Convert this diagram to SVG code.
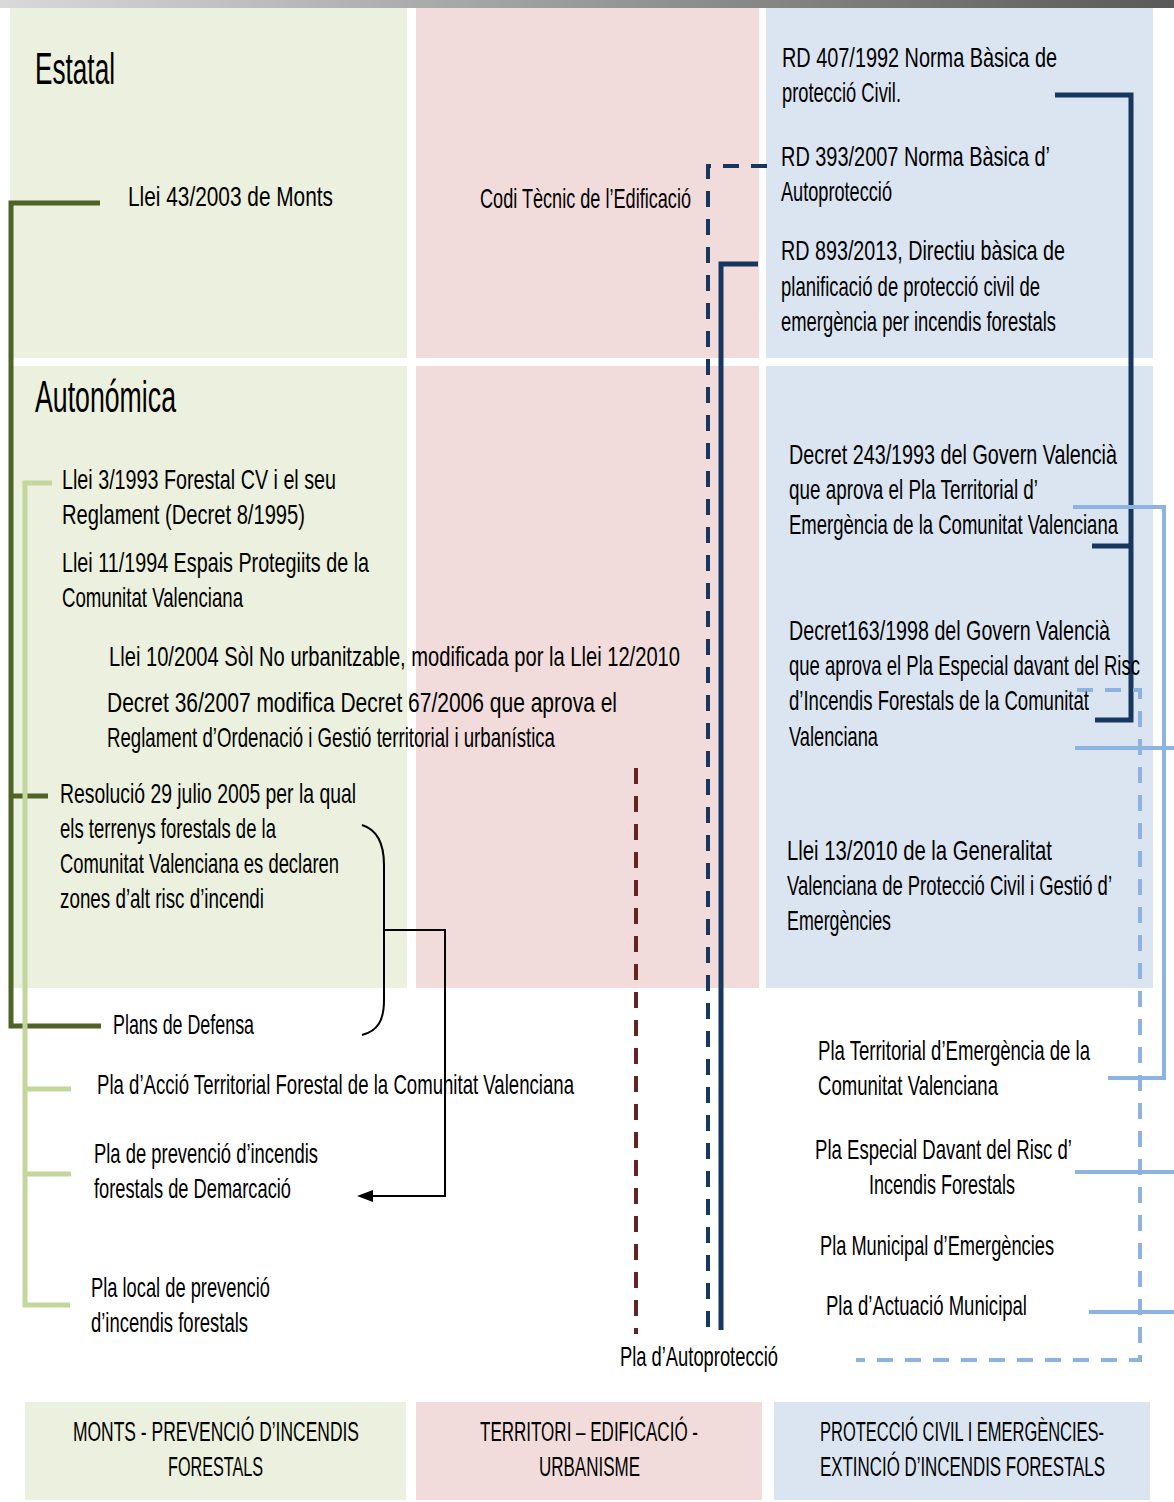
<svg xmlns="http://www.w3.org/2000/svg" width="1174" height="1502" viewBox="0 0 1174 1502">
<defs>
<linearGradient id="topbar" x1="0" y1="0" x2="1" y2="0">
<stop offset="0" stop-color="#d9d9d9"/>
<stop offset="1" stop-color="#595959"/>
</linearGradient>
<marker id="arrow" viewBox="0 0 10 10" refX="9" refY="5" markerWidth="7" markerHeight="7" markerUnits="userSpaceOnUse" orient="auto">
<path d="M0,0 L10,5 L0,10 z" fill="#000"/>
</marker>
<marker id="arrowL" viewBox="0 0 16 12" refX="16" refY="6" markerWidth="16" markerHeight="12" markerUnits="userSpaceOnUse" orient="auto">
<path d="M0,0 L16,6 L0,12 z" fill="#000"/>
</marker>
</defs>
<style>
text{font-family:"Liberation Sans",Arial,sans-serif;fill:#000;}
.t{font-size:28px;}
.h{font-size:44px;}
.b{font-size:27px;}
.g{fill:#ebf1de;}
.p{fill:#f2dcdb;}
.u{fill:#dbe5f1;}
.dg{stroke:#4f6228;stroke-width:5;fill:none;}
.lg{stroke:#c3d69b;stroke-width:5;fill:none;}
.nv{stroke:#17375e;stroke-width:5;fill:none;}
.nvd{stroke:#17375e;stroke-width:4;fill:none;stroke-dasharray:16 12;}
.rd{stroke:#632523;stroke-width:4;fill:none;stroke-dasharray:16 12;}
.lb{stroke:#8db3e2;stroke-width:4;fill:none;}
.lbd{stroke:#8db3e2;stroke-width:4;fill:none;stroke-dasharray:16 12;}
.bk{stroke:#000;stroke-width:2;fill:none;}
</style>
<rect x="0" y="0" width="1174" height="8" fill="url(#topbar)"/>
<g id="panels">
<rect class="g" x="10" y="8" width="397" height="350"/>
<rect class="p" x="416" y="8" width="343" height="350"/>
<rect class="u" x="766" y="8" width="387" height="350"/>
<rect class="g" x="10" y="366" width="397" height="622"/>
<rect class="p" x="416" y="366" width="343" height="622"/>
<rect class="u" x="766" y="366" width="387" height="622"/>
</g>
<g id="headings">
<text class="h" x="35" y="84" textLength="80" lengthAdjust="spacingAndGlyphs">Estatal</text>
<text class="h" x="35" y="412" textLength="141" lengthAdjust="spacingAndGlyphs">Autonómica</text>
</g>
<g id="connectors">
<polyline class="dg" points="100,203 11,203 11,1026 101,1026"/>
<line class="dg" x1="11" y1="796" x2="48" y2="796"/>
<polyline class="lg" points="52,483 25,483 25,1305 70,1305"/>
<line class="lg" x1="25" y1="1089" x2="71" y2="1089"/>
<line class="lg" x1="25" y1="1174" x2="71" y2="1174"/>
<path class="bk" d="M362,825 C378,830 384,845 384,865 L384,1000 C384,1020 378,1031 362,1035"/>
<polyline class="bk" points="384,930 445,930 445,1196 373,1196"/>
<path d="M357,1196 L373,1190 L373,1202 z" fill="#000"/>
<line class="rd" x1="636" y1="768" x2="636" y2="1334"/>
<polyline class="nvd" points="767,166 708,166 708,1330"/>
<polyline class="nv" points="758,264 721,264 721,1330"/>
<polyline class="nv" points="1055,95 1131,95 1131,720 1095,720"/>
<line class="nv" x1="1092" y1="546" x2="1131" y2="546"/>
<polyline class="lb" points="1073,507 1164,507 1164,1078 1108,1078"/>
<line class="lb" x1="1075" y1="748" x2="1174" y2="748"/>
<line class="lb" x1="1075" y1="1172" x2="1174" y2="1172"/>
<line class="lb" x1="1089" y1="1312" x2="1174" y2="1312"/>
<polyline class="lbd" points="1077,690 1140,690 1140,1360 856,1360"/>
</g>
<g id="n-llei43"><text class="t" x="128" y="206" textLength="205" lengthAdjust="spacingAndGlyphs">Llei 43/2003 de Monts</text></g>
<g id="n-codi"><text class="t" x="480" y="208" textLength="211" lengthAdjust="spacingAndGlyphs">Codi Tècnic de l’Edificació</text></g>
<g id="n-rd407">
<text class="t" x="782" y="67" textLength="275" lengthAdjust="spacingAndGlyphs">RD 407/1992 Norma Bàsica de</text>
<text class="t" x="782" y="102" textLength="119" lengthAdjust="spacingAndGlyphs">protecció Civil.</text>
</g>
<g id="n-rd393">
<text class="t" x="781" y="166" textLength="269" lengthAdjust="spacingAndGlyphs">RD 393/2007 Norma Bàsica d’</text>
<text class="t" x="781" y="201" textLength="111" lengthAdjust="spacingAndGlyphs">Autoprotecció</text>
</g>
<g id="n-rd893">
<text class="t" x="781" y="260" textLength="284" lengthAdjust="spacingAndGlyphs">RD 893/2013, Directiu bàsica de</text>
<text class="t" x="781" y="296" textLength="259" lengthAdjust="spacingAndGlyphs">planificació de protecció civil de</text>
<text class="t" x="781" y="331" textLength="275" lengthAdjust="spacingAndGlyphs">emergència per incendis forestals</text>
</g>
<g id="n-decret243">
<text class="t" x="789" y="464" textLength="328" lengthAdjust="spacingAndGlyphs">Decret 243/1993 del Govern Valencià</text>
<text class="t" x="789" y="499" textLength="249" lengthAdjust="spacingAndGlyphs">que aprova el Pla Territorial d’</text>
<text class="t" x="789" y="534" textLength="329" lengthAdjust="spacingAndGlyphs">Emergència de la Comunitat Valenciana</text>
</g>
<g id="n-decret163">
<text class="t" x="789" y="640" textLength="321" lengthAdjust="spacingAndGlyphs">Decret163/1998 del Govern Valencià</text>
<text class="t" x="789" y="675" textLength="351" lengthAdjust="spacingAndGlyphs">que aprova el Pla Especial  davant del Risc</text>
<text class="t" x="789" y="710" textLength="300" lengthAdjust="spacingAndGlyphs">d’Incendis Forestals de la Comunitat</text>
<text class="t" x="789" y="746" textLength="89" lengthAdjust="spacingAndGlyphs">Valenciana</text>
</g>
<g id="n-llei13">
<text class="t" x="787" y="860" textLength="265" lengthAdjust="spacingAndGlyphs">Llei 13/2010 de la Generalitat</text>
<text class="t" x="787" y="895" textLength="325" lengthAdjust="spacingAndGlyphs">Valenciana de Protecció Civil i Gestió d’</text>
<text class="t" x="787" y="930" textLength="104" lengthAdjust="spacingAndGlyphs">Emergències</text>
</g>
<g id="n-llei3">
<text class="t" x="62" y="489" textLength="274" lengthAdjust="spacingAndGlyphs">Llei 3/1993 Forestal CV i el seu</text>
<text class="t" x="62" y="524" textLength="243" lengthAdjust="spacingAndGlyphs">Reglament (Decret 8/1995)</text>
</g>
<g id="n-llei11">
<text class="t" x="62" y="572" textLength="307" lengthAdjust="spacingAndGlyphs">Llei 11/1994 Espais Protegiits de la</text>
<text class="t" x="62" y="607" textLength="181" lengthAdjust="spacingAndGlyphs">Comunitat Valenciana</text>
</g>
<g id="n-llei10"><text class="t" x="109" y="666" textLength="571" lengthAdjust="spacingAndGlyphs">Llei 10/2004 Sòl No urbanitzable, modificada por la Llei 12/2010</text></g>
<g id="n-decret36">
<text class="t" x="107" y="712" textLength="510" lengthAdjust="spacingAndGlyphs">Decret 36/2007 modifica Decret  67/2006  que aprova  el</text>
<text class="t" x="107" y="747" textLength="448" lengthAdjust="spacingAndGlyphs">Reglament d’Ordenació i Gestió territorial i urbanística</text>
</g>
<g id="n-resolucio">
<text class="t" x="60" y="803" textLength="296" lengthAdjust="spacingAndGlyphs">Resolució 29 julio 2005 per la qual</text>
<text class="t" x="60" y="838" textLength="216" lengthAdjust="spacingAndGlyphs">els terrenys forestals de la</text>
<text class="t" x="60" y="873" textLength="279" lengthAdjust="spacingAndGlyphs">Comunitat Valenciana es declaren</text>
<text class="t" x="60" y="908" textLength="204" lengthAdjust="spacingAndGlyphs">zones d’alt risc d’incendi</text>
</g>
<g id="n-plans"><text class="t" x="113" y="1034" textLength="141" lengthAdjust="spacingAndGlyphs">Plans de Defensa</text></g>
<g id="n-pla-accio"><text class="t" x="97" y="1094" textLength="477" lengthAdjust="spacingAndGlyphs">Pla d’Acció Territorial Forestal de la Comunitat Valenciana</text></g>
<g id="n-pla-demarcacio">
<text class="t" x="94" y="1163" textLength="224" lengthAdjust="spacingAndGlyphs">Pla de prevenció d’incendis</text>
<text class="t" x="94" y="1198" textLength="197" lengthAdjust="spacingAndGlyphs">forestals de Demarcació</text>
</g>
<g id="n-pla-local">
<text class="t" x="91" y="1297" textLength="179" lengthAdjust="spacingAndGlyphs">Pla local de prevenció</text>
<text class="t" x="91" y="1332" textLength="157" lengthAdjust="spacingAndGlyphs">d’incendis forestals</text>
</g>
<g id="n-autoproteccio"><text class="t" x="620" y="1366" textLength="158" lengthAdjust="spacingAndGlyphs">Pla d’Autoprotecció</text></g>
<g id="n-pla-territorial">
<text class="t" x="818" y="1060" textLength="272" lengthAdjust="spacingAndGlyphs">Pla Territorial d’Emergència de la</text>
<text class="t" x="818" y="1095" textLength="180" lengthAdjust="spacingAndGlyphs">Comunitat Valenciana</text>
</g>
<g id="n-pla-especial">
<text class="t" x="815" y="1159" textLength="257" lengthAdjust="spacingAndGlyphs">Pla Especial Davant  del Risc d’</text>
<text class="t" x="869" y="1194" textLength="146" lengthAdjust="spacingAndGlyphs">Incendis Forestals</text>
</g>
<g id="n-pla-municipal"><text class="t" x="820" y="1255" textLength="234" lengthAdjust="spacingAndGlyphs">Pla Municipal d’Emergències</text></g>
<g id="n-pla-actuacio"><text class="t" x="826" y="1315" textLength="201" lengthAdjust="spacingAndGlyphs">Pla d’Actuació Municipal</text></g>
<g id="n-monts">
<rect class="g" x="25" y="1402" width="381" height="98"/>
<text class="b" x="73" y="1441" textLength="286" lengthAdjust="spacingAndGlyphs">MONTS -  PREVENCIÓ D’INCENDIS</text>
<text class="b" x="168" y="1476" textLength="95" lengthAdjust="spacingAndGlyphs">FORESTALS</text>
</g>
<g id="n-territori">
<rect class="p" x="416" y="1402" width="346" height="98"/>
<text class="b" x="480" y="1441" textLength="218" lengthAdjust="spacingAndGlyphs">TERRITORI – EDIFICACIÓ -</text>
<text class="b" x="539" y="1476" textLength="101" lengthAdjust="spacingAndGlyphs">URBANISME</text>
</g>
<g id="n-proteccio">
<rect class="u" x="774" y="1402" width="376" height="98"/>
<text class="b" x="820" y="1441" textLength="284" lengthAdjust="spacingAndGlyphs">PROTECCIÓ CIVIL I EMERGÈNCIES-</text>
<text class="b" x="820" y="1476" textLength="285" lengthAdjust="spacingAndGlyphs">EXTINCIÓ D’INCENDIS FORESTALS</text>
</g>
</svg>
